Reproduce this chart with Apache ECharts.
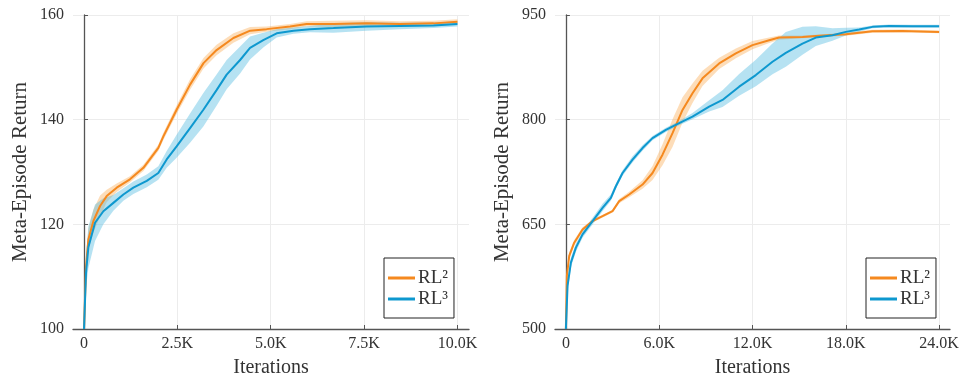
<!DOCTYPE html>
<html>
<head>
<meta charset="utf-8">
<script src="https://cdn.jsdelivr.net/npm/echarts@6/dist/echarts.min.js"></script>
<style>
html,body{margin:0;padding:0;background:#fff;}
#c{width:966px;height:383px;}
</style>
</head>
<body>
<div id="c"></div>
<script>
// ---- Left panel data ----
const xL2 = [0,54,116,250,430,607,875,1230,1590,1990,2125,2480,2840,3200,3550,4000,4450,4890,5520,5960,6680,7570,8460,9360,10000];
const yL2 = [100,112,117.1,120.6,123.5,125.4,127,128.6,130.8,134.6,136.8,141.9,146.7,150.8,153.3,155.6,157.0,157.3,157.8,158.3,158.3,158.4,158.3,158.4,158.7];
const bL2 = [0,1.5,2,2.2,2,1.2,0.8,0.6,0.6,0.6,0.7,0.8,1,1,1,0.9,0.7,0.5,0.5,0.5,0.6,0.6,0.5,0.5,0.5];

const xL3 = [0,54,116,295,518,786,1054,1321,1680,1990,2214,2480,2840,3196,3554,3820,4180,4446,4800,5160,5610,6050,6680,7570,8460,9360,10000];
const yL3 = [100,110.8,115.6,120.3,122.5,124.1,125.7,127,128.3,129.8,132.4,134.9,138.4,141.9,145.7,148.6,151.4,153.7,155.2,156.5,157,157.3,157.5,157.8,157.9,158,158.3];
const bL3 = [0,3,4,3.5,2.5,1.5,1.2,1.2,1.2,1.3,1.6,2.2,2.8,3.2,3,2.8,2.6,2.2,1.4,0.8,0.6,0.6,0.9,0.8,0.6,0.5,0.5];

// ---- Right panel data ----
const xR2 = [0,64,214,536,1071,1714,2357,3000,3428,4070,4928,5571,6214,6857,7500,8142,8785,9856,10928,12000,13071,13713,15213,16284,18000,19713,21640,24000];
const yR2 = [500,576,604.7,623.7,642.7,654.6,661.7,668.9,683.2,692.7,707,723.6,749.8,780.7,814,837.8,859.2,880.6,894.9,906.8,913.9,917.7,918.6,920.1,922.4,926.7,927.2,925.8];
const bR2 = [0,6,5,4,3,2,2,2,3,4,6,10,15,20,18,14,11,8,7,6,4,3,2,2,2,2,2,2];

const xR3 = [0,107,321,643,1071,1714,2357,2893,3214,3643,4285,4928,5571,6428,7285,8142,9214,10071,11142,12213,13285,14142,15213,16070,17142,18000,18857,19714,20785,22285,24000];
const yR3 = [500,561.8,595.1,616.6,635.6,654.6,673.6,687.9,704.6,723.6,742.6,759.3,773.5,785.4,795,804.5,818.7,828.3,847.3,863.9,883,895.8,909.1,917.7,921,925.8,929.1,933,934.3,933.9,933.9];
const bR3up = [0,8,7,6,5,5,6,5,4,4,5,4,3,3,3,5,9,14,18,22,26,30,24,16,10,6,3,2,2,2,2];
const bR3dn = [0,8,7,6,5,5,5,4,4,4,4,4,3,3,3,4,7,10,13,16,18,20,16,12,8,5,3,2,2,2,2];

// ---- Ticks ----
const xTicksL = [0,2500,5000,7500,10000];
const xTickLabelsL = ['0','2.5K','5.0K','7.5K','10.0K'];
const yTicksL = [100,120,140,160];
const xTicksR = [0,6000,12000,18000,24000];
const xTickLabelsR = ['0','6.0K','12.0K','18.0K','24.0K'];
const yTicksR = [500,650,800,950];

const seriesNames = ['RL\u00B2','RL\u00B3'];

const ORANGE = '#F5891F', ORANGE_BAND = 'rgba(250,165,70,0.38)';
const BLUE = '#0E98CF', BLUE_BAND = 'rgba(80,185,225,0.42)';
const FONT = 'Liberation Serif';

function zip(xs, ys){ return xs.map((x,i)=>[x, ys[i]]); }

function bandSeries(idx, xs, ys, up, dn, color){
  const data = xs.map((x,i)=>[x, ys[i]-dn[i], ys[i]+up[i]]);
  return {
    type:'custom', xAxisIndex:idx, yAxisIndex:idx, data:data, silent:true, clip:true,
    encode:{x:0, y:[1,2]},
    renderItem:function(params, api){
      if (params.dataIndex !== 0) return null;
      const upper = data.map(d => api.coord([d[0], d[2]]));
      const lower = data.map(d => api.coord([d[0], d[1]])).reverse();
      return {type:'polygon', shape:{points: upper.concat(lower)}, style:{fill:color}};
    }
  };
}
function lineSeries(idx, name, xs, ys, color){
  return {type:'line', name:name, xAxisIndex:idx, yAxisIndex:idx, data:zip(xs,ys),
    symbol:'none', lineStyle:{color:color, width:2}, itemStyle:{color:color}};
}

function xAxisCfg(idx, min, max, ticks, labels){
  return {
    type:'value', gridIndex:idx, min:min, max:max,
    name:'Iterations', nameLocation:'middle', nameGap:29,
    nameTextStyle:{fontFamily:FONT, fontSize:20, color:'#333'},
    axisLine:{show:true, lineStyle:{color:'#555', width:1.3}},
    axisTick:{show:true, inside:true, length:4, customValues:ticks, lineStyle:{color:'#555'}},
    axisLabel:{customValues:ticks, margin:7, fontFamily:FONT, fontSize:16, color:'#333',
      formatter:(v)=>{ const i = ticks.indexOf(v); return i>=0 ? labels[i] : ''; }},
    splitLine:{show:true, lineStyle:{color:'#ececec', width:1}}
  };
}
function yAxisCfg(idx, ticks){
  return {
    type:'value', gridIndex:idx, min:ticks[0], max:ticks[ticks.length-1],
    interval: ticks[1]-ticks[0],
    name:'Meta-Episode Return', nameLocation:'middle', nameGap:42, nameRotate:90,
    nameTextStyle:{fontFamily:FONT, fontSize:21, color:'#333'},
    axisLine:{show:true, lineStyle:{color:'#555', width:1.3}},
    axisTick:{show:true, inside:true, length:4, lineStyle:{color:'#555'}},
    axisLabel:{margin:9, fontFamily:FONT, fontSize:16, color:'#333'},
    splitLine:{show:true, lineStyle:{color:'#ececec', width:1}}
  };
}
function legendCfg(left){
  return {
    left:left, top:258, orient:'vertical', data:seriesNames,
    icon:'rect', itemWidth:27, itemHeight:3, itemGap:1,
    padding:[10,6,9,4], borderColor:'#222', borderWidth:1, backgroundColor:'#fff',
    textStyle:{fontFamily:FONT, fontSize:19, color:'#333', padding:[0,0,0,-2], lineHeight:20},
    selectedMode:false
  };
}

const chart = echarts.init(document.getElementById('c'), null, {renderer:'canvas'});
chart.setOption({
  animation:false,
  backgroundColor:'#fff',
  grid:[
    {left:73, top:15, width:396, height:315},
    {left:555, top:15, width:395, height:315}
  ],
  xAxis:[ xAxisCfg(0, -295, 10310, xTicksL, xTickLabelsL), xAxisCfg(1, -700, 24700, xTicksR, xTickLabelsR) ],
  yAxis:[ yAxisCfg(0, yTicksL), yAxisCfg(1, yTicksR) ],
  legend:[ legendCfg(384), legendCfg(866) ],
  series:[
    bandSeries(0, xL2, yL2, bL2, bL2, ORANGE_BAND),
    lineSeries(0, seriesNames[0], xL2, yL2, ORANGE),
    bandSeries(0, xL3, yL3, bL3, bL3, BLUE_BAND),
    lineSeries(0, seriesNames[1], xL3, yL3, BLUE),
    bandSeries(1, xR2, yR2, bR2, bR2, ORANGE_BAND),
    lineSeries(1, seriesNames[0], xR2, yR2, ORANGE),
    bandSeries(1, xR3, yR3, bR3up, bR3dn, BLUE_BAND),
    lineSeries(1, seriesNames[1], xR3, yR3, BLUE)
  ]
});
</script>
</body>
</html>
